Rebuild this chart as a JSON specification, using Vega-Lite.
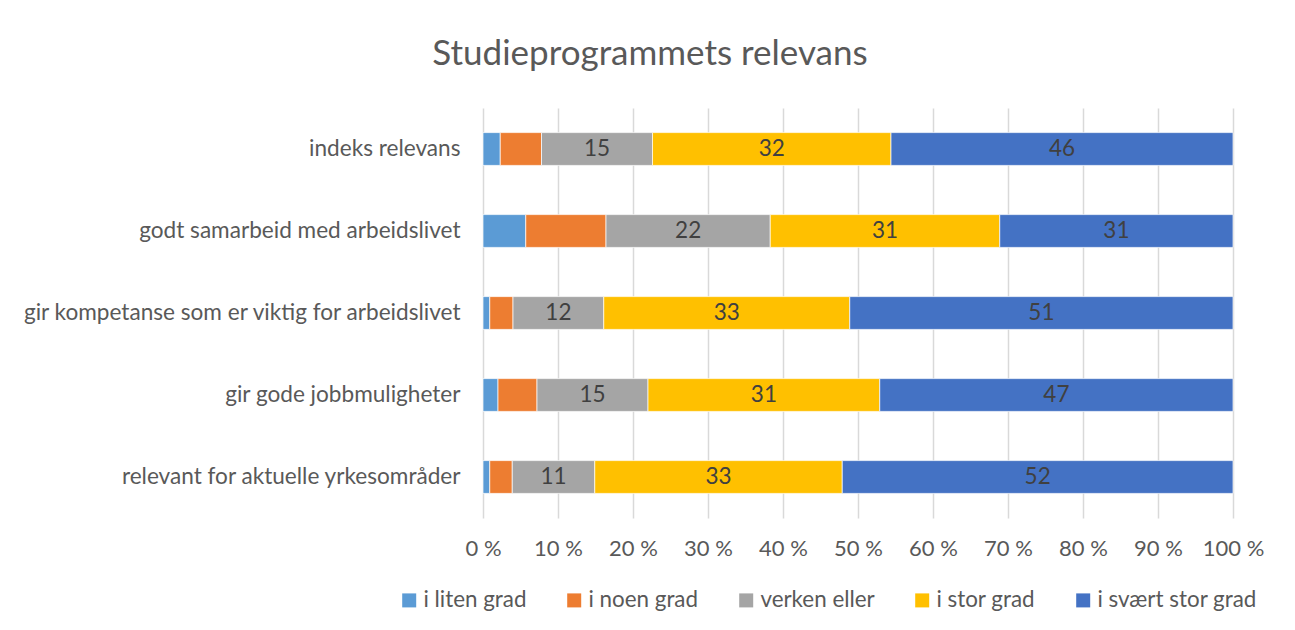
{
  "$schema": "https://vega.github.io/schema/vega-lite/v6.json",
  "width": 750,
  "height": 410,
  "autosize": {"type": "none"},
  "padding": {"left": 483, "top": 108, "right": 62, "bottom": 112},
  "background": "white",
  "config": {
    "font": "Lato",
    "view": {"stroke": null},
    "axis": {"labelColor": "#595959", "labelFont": "Lato"}
  },
  "title": {
    "text": "Studieprogrammets relevans",
    "fontSize": 35,
    "fontWeight": "normal",
    "color": "#595959",
    "anchor": "middle",
    "frame": "group",
    "baseline": "alphabetic",
    "offset": 8,
    "dx": -208
  },
  "data": {
    "values": [
      {"item": "indeks relevans", "cat": "i liten grad", "rank": 1, "value": 2.3},
      {"item": "indeks relevans", "cat": "i noen grad", "rank": 2, "value": 5.5},
      {"item": "indeks relevans", "cat": "verken eller", "rank": 3, "value": 14.8},
      {"item": "indeks relevans", "cat": "i stor grad", "rank": 4, "value": 31.8},
      {"item": "indeks relevans", "cat": "i svært stor grad", "rank": 5, "value": 45.6},
      {"item": "godt samarbeid med arbeidslivet", "cat": "i liten grad", "rank": 1, "value": 5.7},
      {"item": "godt samarbeid med arbeidslivet", "cat": "i noen grad", "rank": 2, "value": 10.7},
      {"item": "godt samarbeid med arbeidslivet", "cat": "verken eller", "rank": 3, "value": 21.9},
      {"item": "godt samarbeid med arbeidslivet", "cat": "i stor grad", "rank": 4, "value": 30.6},
      {"item": "godt samarbeid med arbeidslivet", "cat": "i svært stor grad", "rank": 5, "value": 31.1},
      {"item": "gir kompetanse som er viktig for arbeidslivet", "cat": "i liten grad", "rank": 1, "value": 0.9},
      {"item": "gir kompetanse som er viktig for arbeidslivet", "cat": "i noen grad", "rank": 2, "value": 3.1},
      {"item": "gir kompetanse som er viktig for arbeidslivet", "cat": "verken eller", "rank": 3, "value": 12.1},
      {"item": "gir kompetanse som er viktig for arbeidslivet", "cat": "i stor grad", "rank": 4, "value": 32.8},
      {"item": "gir kompetanse som er viktig for arbeidslivet", "cat": "i svært stor grad", "rank": 5, "value": 51.1},
      {"item": "gir gode jobbmuligheter", "cat": "i liten grad", "rank": 1, "value": 2.0},
      {"item": "gir gode jobbmuligheter", "cat": "i noen grad", "rank": 2, "value": 5.2},
      {"item": "gir gode jobbmuligheter", "cat": "verken eller", "rank": 3, "value": 14.8},
      {"item": "gir gode jobbmuligheter", "cat": "i stor grad", "rank": 4, "value": 30.9},
      {"item": "gir gode jobbmuligheter", "cat": "i svært stor grad", "rank": 5, "value": 47.1},
      {"item": "relevant for aktuelle yrkesområder", "cat": "i liten grad", "rank": 1, "value": 0.9},
      {"item": "relevant for aktuelle yrkesområder", "cat": "i noen grad", "rank": 2, "value": 3.0},
      {"item": "relevant for aktuelle yrkesområder", "cat": "verken eller", "rank": 3, "value": 11.0},
      {"item": "relevant for aktuelle yrkesområder", "cat": "i stor grad", "rank": 4, "value": 33.0},
      {"item": "relevant for aktuelle yrkesområder", "cat": "i svært stor grad", "rank": 5, "value": 52.1}
    ]
  },
  "encoding": {
    "y": {
      "field": "item",
      "type": "nominal",
      "sort": null,
      "scale": {"paddingInner": 0.6, "paddingOuter": 0.3},
      "axis": {
        "title": null,
        "domain": false,
        "ticks": false,
        "labelFontSize": 22.6,
        "labelPadding": 23,
        "labelLimit": 600
      }
    }
  },
  "layer": [
    {
      "mark": {"type": "bar", "stroke": "white", "strokeWidth": 0.7},
      "encoding": {
        "x": {
          "field": "value",
          "type": "quantitative",
          "stack": "normalize",
          "scale": {"domain": [0, 1], "nice": false},
          "axis": {
            "title": null,
            "domain": false,
            "ticks": false,
            "values": [0, 0.1, 0.2, 0.3, 0.4, 0.5, 0.6, 0.7, 0.8, 0.9, 1],
            "labelExpr": "round(datum.value * 100) + ' %'",
            "labelFontSize": 22,
            "labelPadding": 20,
            "labelOverlap": false,
            "labelBound": false,
            "labelFlush": false,
            "grid": true,
            "gridColor": "#D9D9D9",
            "gridWidth": 1.5
          }
        },
        "order": {"field": "rank", "type": "quantitative"},
        "color": {
          "field": "cat",
          "type": "nominal",
          "sort": ["i liten grad", "i noen grad", "verken eller", "i stor grad", "i svært stor grad"],
          "scale": {
            "domain": ["i liten grad", "i noen grad", "verken eller", "i stor grad", "i svært stor grad"],
            "range": ["#5B9BD5", "#ED7D31", "#A5A5A5", "#FFC000", "#4472C4"]
          },
          "legend": {
            "title": null,
            "orient": "none",
            "legendX": -85,
            "legendY": 481,
            "direction": "horizontal",
            "columns": 5,
            "columnPadding": 36,
            "symbolType": "square",
            "symbolSize": 196,
            "symbolStrokeWidth": 0,
            "symbolOpacity": 1,
            "labelFontSize": 22.4,
            "labelColor": "#595959",
            "labelOffset": 3,
            "labelLimit": 400
          }
        }
      }
    },
    {
      "mark": {"type": "text", "fontSize": 22.5, "color": "#404040", "baseline": "middle", "align": "center"},
      "encoding": {
        "x": {
          "field": "value",
          "type": "quantitative",
          "stack": "normalize",
          "bandPosition": 0.5
        },
        "detail": {"field": "cat", "type": "nominal"},
        "order": {"field": "rank", "type": "quantitative"},
        "text": {
          "condition": {"test": "datum.cat === 'i liten grad' || datum.cat === 'i noen grad'", "value": ""},
          "field": "value",
          "type": "quantitative",
          "format": ".0f"
        }
      }
    }
  ]
}
